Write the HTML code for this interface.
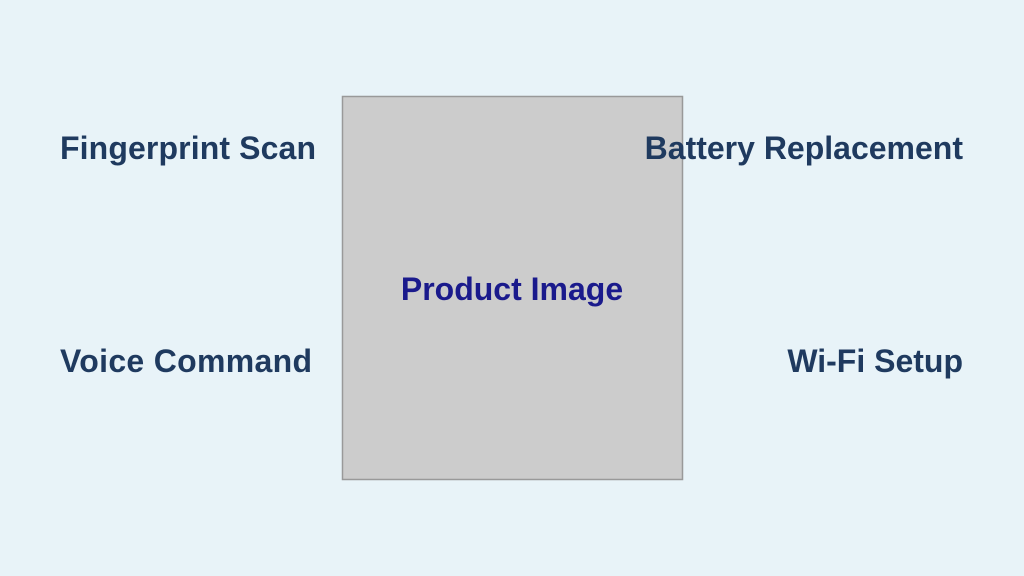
<!DOCTYPE html>
<html><head><meta charset="utf-8"><style>html,body{margin:0;padding:0;background:#e8f3f8}</style></head>
<body>
<svg width="1024" height="576" xmlns="http://www.w3.org/2000/svg" style="display:block">
<rect width="1024" height="576" fill="#e8f3f8"/>
<rect x="342.5" y="96.5" width="340" height="383" fill="#cccccc" stroke="#999999" stroke-width="1.5"/>
<g font-family="Liberation Sans, sans-serif" font-weight="bold" font-size="32" fill="#1f3a5f">
<text x="60" y="159" textLength="256">Fingerprint Scan</text>
<text x="963" y="159" text-anchor="end">Battery Replacement</text>
<text x="60" y="372" textLength="252">Voice Command</text>
<text x="963" y="372" text-anchor="end">Wi-Fi Setup</text>
<text x="512" y="300" text-anchor="middle" fill="#1a1a8c">Product Image</text>
</g>
</svg>
</body></html>
